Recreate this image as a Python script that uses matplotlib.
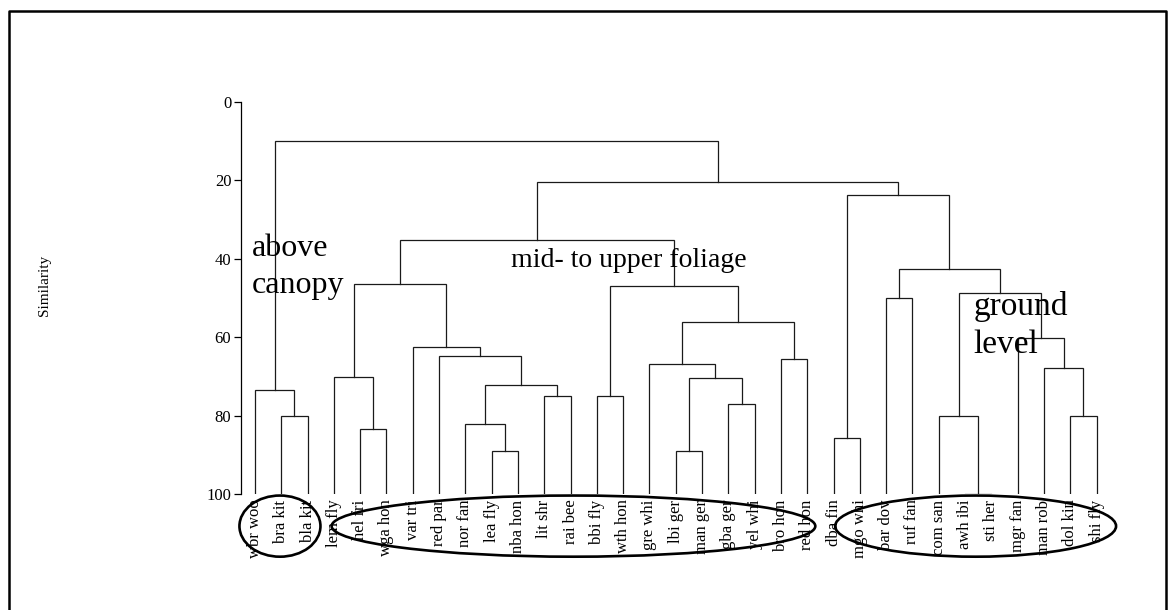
import matplotlib.pyplot as plt
from matplotlib.patches import Ellipse
from matplotlib.lines import Line2D

plt.rcParams['font.family'] = ['Liberation Serif', 'DejaVu Serif']

# leaf order along the x axis
species = ['wbr woo', 'bra kit', 'bla kit', 'lem fly', 'hel fri', 'wga hon',
           'var tri', 'red par', 'nor fan', 'lea fly', 'nba hon', 'lit shr',
           'rai bee', 'bbi fly', 'wth hon', 'gre whi', 'lbi ger', 'man ger',
           'gba ger', 'yel whi', 'bro hon', 'red hon', 'dba fin', 'mgo whi',
           'bar dov', 'ruf fan', 'com san', 'awh ibi', 'sti her', 'mgr fan',
           'man rob', 'dol kin', 'shi fly']

# merges: left child, right child, similarity (children >= 33 are earlier merges)
merge_left = [27, 1, 4, 9, 8, 11, 37, 7, 6, 3, 42, 13, 16, 18, 45, 15, 20, 48,
              44, 43, 0, 22, 24, 26, 31, 30, 29, 56, 55, 54, 52, 53]
merge_right = [28, 2, 5, 10, 36, 12, 38, 39, 40, 35, 41, 14, 17, 19, 46, 47, 21,
               49, 50, 51, 34, 23, 25, 33, 32, 57, 58, 59, 60, 61, 62, 63]
merge_sim = [100, 80, 83.4, 89, 82.1, 75, 72.3, 64.9, 62.4, 70.2, 46.5, 75,
             89, 77, 70.5, 66.9, 65.5, 56.1, 47.0, 35.3, 73.4, 85.7, 50.1, 80,
             80, 67.9, 60.2, 48.8, 42.7, 23.6, 20.4, 10]

# habitat groups circled under the leaf labels: centre, width (in leaf units)
group_names = ['above\ncanopy', 'mid- to upper foliage', 'ground\nlevel']
group_centre = [0.95, 12.11, 27.40]
group_width = [3.08, 18.39, 10.68]

fig = plt.figure(figsize=(11.74, 6.10), dpi=100)
ax = fig.add_axes([0.2053, 0.1902, 0.7402, 0.6426])

n = len(species)
xpos = {i: float(i) for i in range(n)}
ypos = {i: 100.0 for i in range(n)}
for k, (a, b, s) in enumerate(zip(merge_left, merge_right, merge_sim)):
    node = n + k
    xa, xb = xpos[a], xpos[b]
    ax.plot([xa, xa, xb, xb], [ypos[a], s, s, ypos[b]],
            color='#1a1a1a', lw=0.9, solid_joinstyle='miter')
    xpos[node] = (xa + xb) / 2
    ypos[node] = s

ax.set_xlim(-0.53, n - 1 + 0.51)
ax.set_ylim(100, 0)
ax.set_yticks([0, 20, 40, 60, 80, 100])
ax.tick_params(axis='y', labelsize=12, length=5, width=0.9, direction='out', pad=2)
ax.set_xticks(range(n))
ax.set_xticklabels(species, rotation=90, fontsize=12)
ax.tick_params(axis='x', length=0, pad=4)
for side in ['top', 'right', 'bottom']:
    ax.spines[side].set_visible(False)
ax.spines['left'].set_linewidth(0.9)

fig.text(45 / 1174, 1 - 285 / 610, 'Similarity', rotation=90,
         ha='center', va='center', fontsize=11)

for c, w in zip(group_centre, group_width):
    ax.add_patch(Ellipse((c, 108.2), w, 15.6, fill=False, lw=1.9,
                         edgecolor='black', clip_on=False))

# group names (baseline is that of the last line)
ax.text(-0.13, 48.7, group_names[0], fontsize=23, ha='left', va='baseline',
        linespacing=1.35)
ax.text(9.75, 42.2, group_names[1], fontsize=20, ha='left', va='baseline')
ax.text(27.33, 64.0, group_names[2], fontsize=24, ha='left', va='baseline',
        linespacing=1.3)

# outer frame
fx0, fx1, fy0 = 9 / 1174, 1166 / 1174, 1 - 11 / 610
fig.add_artist(Line2D([fx0, fx0, fx1, fx1], [-0.01, fy0, fy0, -0.01],
                      transform=fig.transFigure, color='black', lw=1.8))

fig.savefig('out.png', dpi=100)
